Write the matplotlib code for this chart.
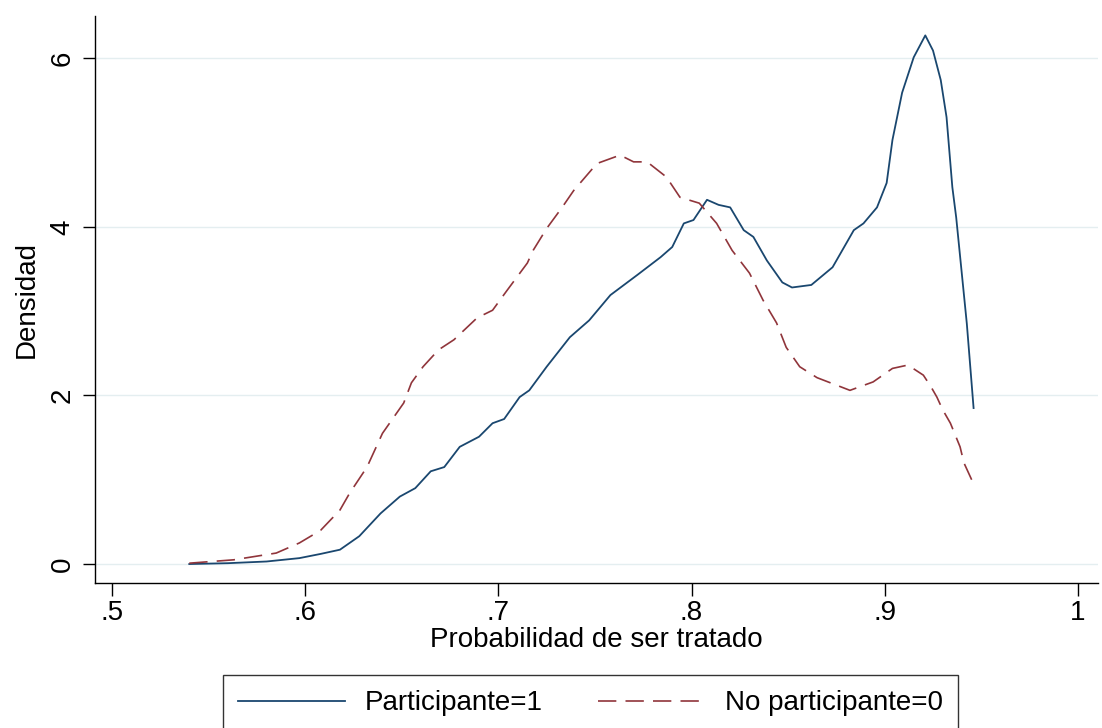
import matplotlib
matplotlib.use("Agg")
import matplotlib.pyplot as plt
from matplotlib.lines import Line2D

plt.rcParams['font.family'] = ['Liberation Sans', 'DejaVu Sans']

# Participante=1 (treated) kernel density
part_x = [0.540, 0.560, 0.580, 0.597, 0.608, 0.618, 0.628, 0.639, 0.649, 0.657,
          0.665, 0.672, 0.680, 0.690, 0.697, 0.703, 0.711, 0.716, 0.725, 0.737,
          0.747, 0.758, 0.772, 0.784, 0.790, 0.796, 0.801, 0.808, 0.814, 0.820,
          0.827, 0.832, 0.839, 0.847, 0.852, 0.862, 0.873, 0.884, 0.889, 0.896,
          0.901, 0.904, 0.909, 0.915, 0.921, 0.925, 0.929, 0.932, 0.935, 0.937,
          0.9425, 0.946]
part_y = [0.00, 0.01, 0.03, 0.07, 0.12, 0.17, 0.33, 0.60, 0.80, 0.90,
          1.10, 1.15, 1.39, 1.51, 1.67, 1.72, 1.98, 2.06, 2.34, 2.69,
          2.89, 3.19, 3.43, 3.64, 3.76, 4.04, 4.08, 4.32, 4.26, 4.23,
          3.96, 3.88, 3.60, 3.34, 3.28, 3.31, 3.52, 3.96, 4.04, 4.23,
          4.52, 5.03, 5.59, 6.01, 6.27, 6.09, 5.74, 5.30, 4.47, 4.11,
          2.85, 1.85]

# No participante=0 (control) kernel density
nopart_x = [0.540, 0.563, 0.585, 0.597, 0.608, 0.618, 0.623, 0.632, 0.640, 0.651,
            0.655, 0.661, 0.669, 0.677, 0.689, 0.697, 0.704, 0.715, 0.718, 0.725,
            0.733, 0.739, 0.751, 0.763, 0.770, 0.777, 0.787, 0.794, 0.804, 0.813,
            0.821, 0.830, 0.837, 0.844, 0.849, 0.856, 0.865, 0.882, 0.894, 0.904,
            0.912, 0.920, 0.924, 0.927, 0.930, 0.934, 0.939, 0.941, 0.945]
nopart_y = [0.01, 0.05, 0.13, 0.25, 0.40, 0.64, 0.84, 1.15, 1.55, 1.91,
            2.15, 2.34, 2.54, 2.66, 2.92, 3.01, 3.23, 3.57, 3.72, 3.98,
            4.23, 4.43, 4.75, 4.85, 4.77, 4.77, 4.59, 4.35, 4.28, 4.04,
            3.72, 3.45, 3.13, 2.86, 2.57, 2.34, 2.21, 2.06, 2.16, 2.32,
            2.36, 2.24, 2.10, 1.98, 1.83, 1.67, 1.39, 1.20, 1.00]

x_ticks = [0.5, 0.6, 0.7, 0.8, 0.9, 1.0]
x_ticklabels = ['.5', '.6', '.7', '.8', '.9', '1']
y_ticks = [0, 2, 4, 6]
y_ticklabels = ['0', '2', '4', '6']

blue = '#1a476f'
red = '#90353b'
dash = (11, 5.5)

fig = plt.figure(figsize=(11.02, 7.28), dpi=100)
ax = fig.add_axes([95 / 1102, 1 - 583 / 728, (1098 - 95) / 1102, (583 - 16) / 728])

ax.plot(part_x, part_y, color=blue, lw=1.3, solid_joinstyle='round')
ax.plot(nopart_x, nopart_y, color=red, lw=1.2, dashes=dash)

ax.set_xlim(0.4912, 1.0104)
ax.set_ylim(-0.225, 6.50)

ax.set_xticks(x_ticks)
ax.set_xticklabels(x_ticklabels)
ax.set_yticks(y_ticks)
ax.set_yticklabels(y_ticklabels, rotation=90, va='center')

for s in ['top', 'right']:
    ax.spines[s].set_visible(False)
for s in ['left', 'bottom']:
    ax.spines[s].set_linewidth(1.0)
    ax.spines[s].set_color('black')

ax.tick_params(axis='both', direction='out', length=9, width=1.0, labelsize=20, colors='black')
ax.tick_params(axis='y', pad=5)
ax.tick_params(axis='x', pad=3)

ax.grid(axis='y', color='#e4eef0', lw=1.0)
ax.set_axisbelow(True)

ax.set_xlabel('Probabilidad de ser tratado', fontsize=20, labelpad=1)
ax.set_ylabel('Densidad', fontsize=20, labelpad=7)

handles = [Line2D([0], [0], color=blue, lw=1.3),
           Line2D([0], [0], color=red, lw=1.2, dashes=dash)]
leg = fig.legend(handles, ['Participante=1', 'No participante=0'],
                 loc='upper left', bbox_to_anchor=(223 / 1102, 1 - 675 / 728),
                 ncol=2, fontsize=20, frameon=True, fancybox=False,
                 edgecolor='black', handlelength=3.85, handletextpad=0.7,
                 columnspacing=2.0, borderpad=0.55, borderaxespad=0)
leg.get_frame().set_linewidth(1.0)

fig.savefig('out.png', dpi=100)
